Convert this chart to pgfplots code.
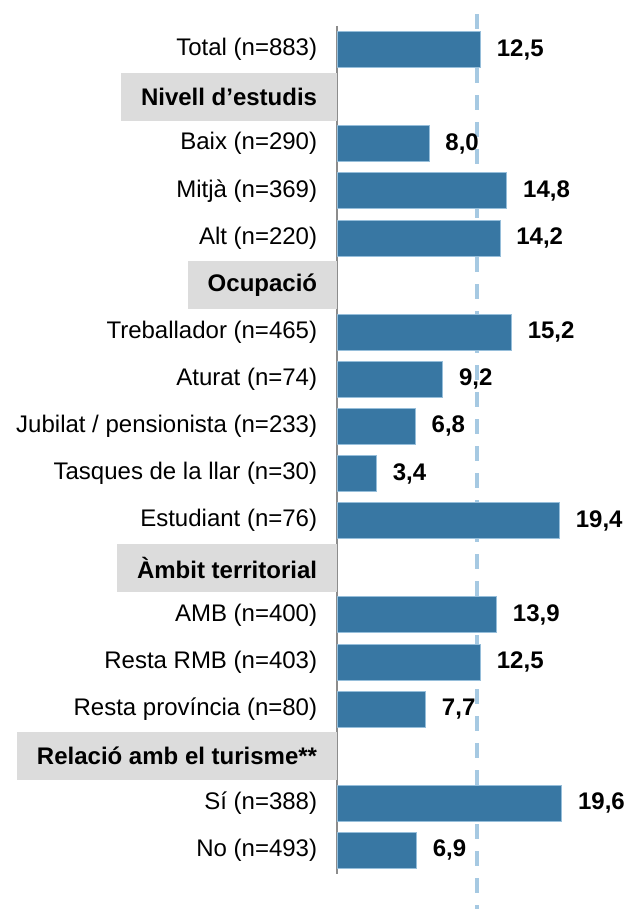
\documentclass[border=0pt]{standalone}
\usepackage{fontspec}
\setmainfont{Liberation Sans}
\usepackage{pgfplots}
\pgfplotsset{compat=1.18}
\definecolor{barblue}{RGB}{56,119,163}
\definecolor{baredge}{RGB}{150,190,218}
\definecolor{dashblue}{RGB}{166,201,226}
\definecolor{headgray}{RGB}{220,220,220}
\definecolor{axgray}{RGB}{140,140,140}
\begin{document}
\begin{tikzpicture}
\begin{axis}[
  at={(0,0)}, anchor=south west,
  scale only axis,
  width=143pt, height=424pt,
  xmin=0, xmax=25,
  ymin=0.5, ymax=18.5,
  y dir=reverse,
  axis x line=none,
  axis y line*=left,
  axis line style={-, draw=axgray, line width=1pt},
  xbar, bar width=18pt,
  ytick={1,3,4,5,7,8,9,10,11,13,14,15,17,18},
  yticklabels={{Total (n=883)},{Baix (n=290)},{Mitjà (n=369)},{Alt (n=220)},{Treballador (n=465)},{Aturat (n=74)},{Jubilat / pensionista (n=233)},{Tasques de la llar (n=30)},{Estudiant (n=76)},{AMB (n=400)},{Resta RMB (n=403)},{Resta província (n=80)},{Sí (n=388)},{No (n=493)}},
  major tick length=0pt,
  ytick style={draw=none},
  yticklabel style={font=\fontsize{12}{14}\selectfont, inner xsep=10pt, inner ysep=0pt, anchor=east},
  extra y ticks={2,6,12,16},
  extra y tick labels={{Nivell d’estudis},{Ocupació},{Àmbit territorial},{Relació amb el turisme**}},
  extra y tick style={grid=none, ytick style={draw=none}, yticklabel style={fill=headgray, font=\fontsize{12}{14}\selectfont\bfseries, minimum height=24pt, inner xsep=10pt}},
  clip=false,
  nodes near coords,
  nodes near coords style={anchor=west, inner sep=0pt, xshift=8pt, font=\fontsize{12}{14}\selectfont\bfseries, text=black},
  /pgf/number format/.cd, fixed, fixed zerofill, precision=1, use comma, assume math mode=true,
]
\addplot[forget plot, draw=dashblue, line width=1.8pt, dash pattern=on 7.5pt off 6pt, nodes near coords={}, xbar=0pt, sharp plot] coordinates {(12.2,0.25) (12.2,19.25)};
\addplot[fill=barblue, draw=baredge, line width=0.4pt] coordinates {
(12.5,1) (8.0,3) (14.8,4) (14.2,5) (15.2,7) (9.2,8) (6.8,9) (3.4,10) (19.4,11) (13.9,13) (12.5,14) (7.7,15) (19.6,17) (6.9,18)};
\end{axis}
\pgfresetboundingbox
\path[use as bounding box] (-168.75pt,-17.5pt) rectangle (145.25pt,437pt);
\end{tikzpicture}
\end{document}
